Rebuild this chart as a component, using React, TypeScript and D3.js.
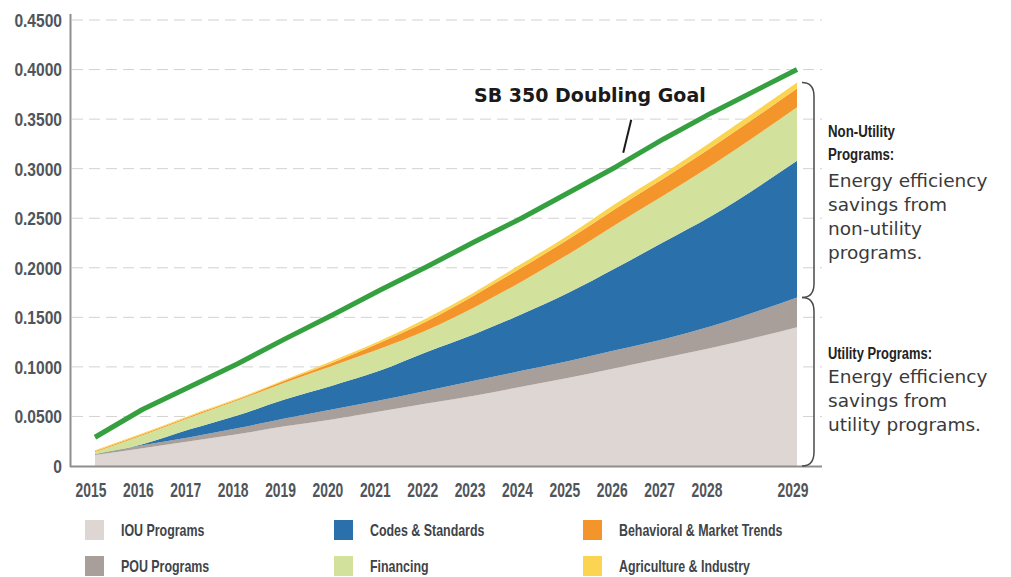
import React from "react";
import * as d3 from "d3";

const years = [2015, 2016, 2017, 2018, 2019, 2020, 2021, 2022, 2023, 2024, 2025, 2026, 2027, 2028, 2029];
const iouPrograms = [0.011, 0.018, 0.025, 0.032, 0.040, 0.047, 0.055, 0.063, 0.071, 0.080, 0.089, 0.099, 0.109, 0.119, 0.140];
const pouPrograms = [0.001, 0.003, 0.004, 0.006, 0.008, 0.010, 0.011, 0.013, 0.015, 0.016, 0.017, 0.018, 0.019, 0.022, 0.030];
const codesStandards = [0.000, 0.001, 0.008, 0.013, 0.019, 0.024, 0.030, 0.039, 0.047, 0.057, 0.069, 0.083, 0.098, 0.111, 0.138];
const financing = [0.002, 0.009, 0.012, 0.015, 0.017, 0.020, 0.022, 0.022, 0.027, 0.033, 0.039, 0.044, 0.047, 0.051, 0.054];
const behavioral = [0.001, 0.001, 0.001, 0.001, 0.002, 0.003, 0.006, 0.009, 0.012, 0.014, 0.015, 0.016, 0.017, 0.018, 0.019];
const agriculture = [0.001, 0.001, 0.001, 0.001, 0.001, 0.002, 0.002, 0.003, 0.003, 0.004, 0.004, 0.005, 0.005, 0.006, 0.006];
const doublingGoal = [0.029, 0.057, 0.080, 0.103, 0.128, 0.152, 0.177, 0.201, 0.226, 0.250, 0.276, 0.302, 0.330, 0.356, 0.400];

const yTicks = [0, 0.05, 0.1, 0.15, 0.2, 0.25, 0.3, 0.35, 0.4, 0.45];
const seriesKeys = ["iou", "pou", "codes", "financing", "behavioral", "agriculture"];
const seriesNames = ["IOU Programs", "POU Programs", "Codes & Standards", "Financing", "Behavioral & Market Trends", "Agriculture & Industry"];
const seriesColors = ["#ddd6d2", "#a89f9a", "#2a71ac", "#d2e19b", "#f4952b", "#fbd452"];
const legendOrder = [0, 2, 4, 1, 3, 5];

const goalLabel = "SB 350 Doubling Goal";
const nonUtilityTitle = ["Non-Utility", "Programs:"];
const nonUtilityText = ["Energy efficiency", "savings from", "non-utility", "programs."];
const utilityTitle = ["Utility Programs:"];
const utilityText = ["Energy efficiency", "savings from", "utility programs."];

const W = 1011;
const H = 577;
const narrow = "'Liberation Sans', Arial, sans-serif";
const wide = "'DejaVu Sans', Verdana, sans-serif";

export default function App() {
  const x = d3.scaleLinear().domain([2015, 2028, 2029]).range([95, 711, 797]);
  const y = d3.scaleLinear().domain([0, 0.45]).range([466, 20]);

  const table = years.map((yr, i) => ({
    year: yr,
    iou: iouPrograms[i],
    pou: pouPrograms[i],
    codes: codesStandards[i],
    financing: financing[i],
    behavioral: behavioral[i],
    agriculture: agriculture[i],
  }));
  const stacked = d3.stack<any>().keys(seriesKeys)(table);
  const area = d3
    .area<any>()
    .x((d) => x(d.data.year))
    .y0((d) => y(d[0]))
    .y1((d) => y(d[1]))
    .curve(d3.curveMonotoneX);
  const goalLine = d3
    .line<number>()
    .x((_, i) => x(years[i]))
    .y((d) => y(d))
    .curve(d3.curveLinear);

  const last = years.length - 1;
  const xr = x(years[last]);
  const topAll = y(stacked[stacked.length - 1][last][1]);
  const utilTop = y(stacked[1][last][1]);
  const base = y(0);

  const bracket = (y0: number, y1: number) => {
    const x0 = xr + 5;
    const x1 = xr + 17;
    const r = 14;
    return `M${x0},${y0} Q${x1},${y0} ${x1},${y0 + r} L${x1},${y1 - r} Q${x1},${y1} ${x0},${y1}`;
  };

  const gx = x(2026);
  const gy = y(doublingGoal[11]);

  return (
    <svg width={W} height={H} style={{ position: "absolute", left: 0, top: 0, background: "#fff" }}>
      {yTicks.filter((t) => t > 0).map((t) => (
        <line key={t} x1={72} x2={822} y1={y(t)} y2={y(t)} stroke="#d2d2d2" strokeWidth={1} strokeDasharray="11 6" />
      ))}
      {stacked.map((s, i) => (
        <path key={s.key} d={area(s) || ""} fill={seriesColors[i]} />
      ))}
      <path d={goalLine(doublingGoal) || ""} fill="none" stroke="#35a03f" strokeWidth={5} strokeLinejoin="round" />
      <line x1={70.5} x2={70.5} y1={14} y2={467} stroke="#8e8e8e" strokeWidth={2} />
      <line x1={70} x2={822} y1={466.5} y2={466.5} stroke="#8e8e8e" strokeWidth={2} />
      {yTicks.map((t) => (
        <text
          key={t}
          transform={`translate(62,${y(t)}) scale(0.82,1)`}
          dy="0.36em"
          textAnchor="end"
          fontFamily={narrow}
          fontWeight="bold"
          fontSize={19}
          fill="#4f555b"
        >
          {t === 0 ? "0" : t.toFixed(4)}
        </text>
      ))}
      {years.map((yr) => (
        <text
          key={yr}
          transform={`translate(${x(yr) - 4},${497}) scale(0.66,1)`}
          textAnchor="middle"
          fontFamily={narrow}
          fontWeight="bold"
          fontSize={21}
          fill="#4f555b"
        >
          {String(yr)}
        </text>
      ))}
      <text x={474} y={102} fontFamily={wide} fontWeight="bold" fontSize={19} fill="#1a1a1a">
        {goalLabel}
      </text>
      <line x1={gx + 15} y1={gy - 47} x2={gx + 7} y2={gy - 14} stroke="#1a1a1a" strokeWidth={2} />
      <path d={bracket(topAll, utilTop)} fill="none" stroke="#4a4a4a" strokeWidth={1.5} />
      <path d={bracket(utilTop, base)} fill="none" stroke="#4a4a4a" strokeWidth={1.5} />
      {nonUtilityTitle.map((t, i) => (
        <text key={t} transform={`translate(828,${137 + i * 23}) scale(0.78,1)`} fontFamily={narrow} fontWeight="bold" fontSize={17} fill="#222">
          {t}
        </text>
      ))}
      {nonUtilityText.map((t, i) => (
        <text key={t} x={828} y={187 + i * 24} fontFamily={wide} fontSize={18.5} fill="#3a3a3a">
          {t}
        </text>
      ))}
      {utilityTitle.map((t) => (
        <text key={t} transform={`translate(828,359) scale(0.76,1)`} fontFamily={narrow} fontWeight="bold" fontSize={17} fill="#222">
          {t}
        </text>
      ))}
      {utilityText.map((t, i) => (
        <text key={t} x={828} y={383 + i * 24} fontFamily={wide} fontSize={18.5} fill="#3a3a3a">
          {t}
        </text>
      ))}
      {legendOrder.map((si, k) => {
        const col = k % 3;
        const row = Math.floor(k / 3);
        const lx = 85 + col * 249;
        const ly = 530 + row * 36;
        return (
          <g key={si}>
            <rect x={lx} y={ly - 10} width={19} height={20} fill={seriesColors[si]} />
            <text transform={`translate(${lx + 36},${ly + 6}) scale(0.73,1)`} fontFamily={narrow} fontWeight="bold" fontSize={17} fill="#3e444a">
              {seriesNames[si]}
            </text>
          </g>
        );
      })}
    </svg>
  );
}
